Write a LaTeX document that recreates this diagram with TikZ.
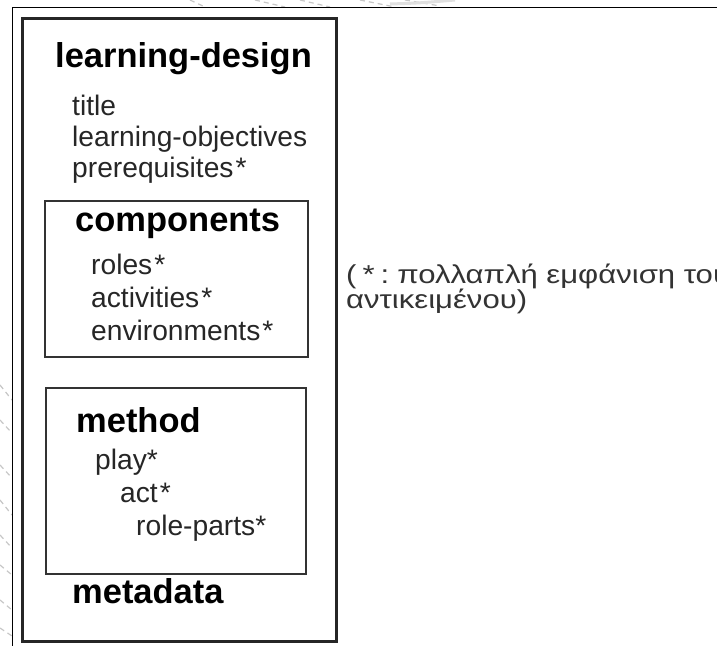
\documentclass[tikz,border=0pt]{standalone}
\usepackage{fontspec}
\setmainfont{Liberation Sans}
\newfontfamily\notefont[FakeStretch=1.2]{Liberation Sans}
\begin{document}
\begin{tikzpicture}[x=1bp,y=-1bp,
  heading/.style={anchor=base west,inner sep=0pt,font=\fontsize{34.6}{40}\selectfont\bfseries,text=black},
  item/.style={anchor=base west,inner sep=0pt,font=\fontsize{28.3}{32}\selectfont,text=black!85},
  note/.style={anchor=base west,inner sep=0pt,font=\notefont\fontsize{26}{27}\selectfont,text=black!80},
  outerbox/.style={draw=black!85,line width=2.6bp,inner sep=0pt,anchor=north west},
  innerbox/.style={draw=black!80,line width=1.8bp,inner sep=0pt,anchor=north west},
  sketch/.style={draw=black!22,line width=1.2bp,dash pattern=on 5bp off 4bp}]
\useasboundingbox (0,0) rectangle (717,646);
\clip (0,0) rectangle (717,646);
\fill[white] (0,0) rectangle (717,646);

% faint strokes of the page behind the frame
\draw[sketch] (190,0) -- (205,7);
\draw[sketch] (255,0) -- (285,7);
\draw[sketch] (300,0) -- (330,7);
\draw[sketch] (360,0) -- (395,7);
\draw[sketch] (405,0) -- (440,6);
\draw[draw=black!12,line width=3bp] (390,4) .. controls (420,3) .. (455,0);
\draw[sketch] (0,385) -- (12,400);
\draw[sketch] (0,420) -- (11,432);
\draw[sketch] (0,465) -- (12,478);
\draw[sketch] (0,500) -- (12,515);
\draw[sketch] (0,535) -- (12,548);
\draw[sketch] (0,565) -- (12,575);
\draw[sketch] (0,600) -- (12,610);
\draw[sketch] (0,628) -- (12,636);

% window frame
\coordinate (frameTL) at (12.5,7.5);
\coordinate (frameTR) at (717,7.5);
\coordinate (frameBL) at (12.5,646);
\draw[line width=1.3bp,black] (frameTR) -- (frameTL) -- (frameBL);

% boxes
\node[outerbox,minimum width=314bp,minimum height=623bp] (ld) at (21,17) {};
\node[innerbox,minimum width=263bp,minimum height=156bp] (comp) at (44,200) {};
\node[innerbox,minimum width=260bp,minimum height=186bp] (meth) at (45,387) {};

% learning-design
\node[heading] (ldTitle) at (55,68) {learning-design};
\node[item] (title) at (72,116) {title};
\node[item] (objectives) at (72,147) {learning-objectives};
\node[item] (prereq) at (72,178) {prerequisites\kern2bp*};

% components
\node[heading] (compTitle) at (75,231) {components};
\node[item] (roles) at (91,274) {roles\kern2bp*};
\node[item] (activities) at (91,307) {activities\kern2bp*};
\node[item] (environments) at (91,340) {environments\kern2bp*};

% method
\node[heading] (methTitle) at (76,432) {method};
\node[item] (play) at (95,469) {play*};
\node[item] (act) at (120,502) {act\kern2bp*};
\node[item] (roleparts) at (136,535) {role-parts*};

% metadata
\node[heading] (metadata) at (72,603) {metadata};

% footnote on the asterisk
\node[note] (noteA) at (346,283) {(\kern6bp*\kern6bp:\kern8bp πολλαπλή εμφάνιση του};
\node[note] (noteB) at (346,308) {αντικειμένου)};
\end{tikzpicture}
\end{document}
